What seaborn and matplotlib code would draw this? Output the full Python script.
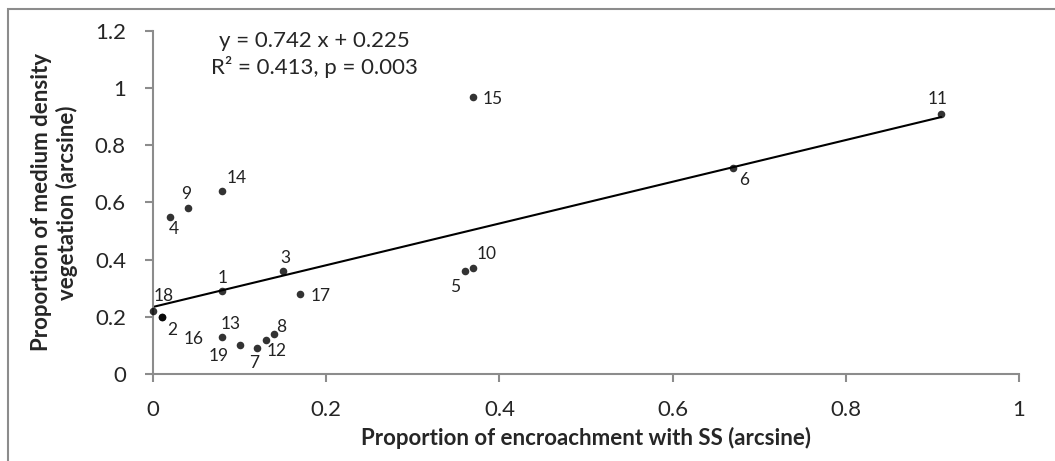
import numpy as np
import pandas as pd
import matplotlib
matplotlib.use("Agg")
import matplotlib.pyplot as plt
from matplotlib.patches import Rectangle
import seaborn as sns

# Data (site number, x, y)
sites = [1, 2, 3, 4, 5, 6, 7, 8, 9, 10, 11, 12, 13, 14, 15, 16, 17, 18, 19]
encroachment = [0.08, 0.01, 0.15, 0.02, 0.36, 0.67, 0.12, 0.14, 0.04, 0.37,
                0.91, 0.13, 0.08, 0.08, 0.37, 0.01, 0.17, 0.00, 0.10]
medium_veg = [0.29, 0.20, 0.36, 0.55, 0.36, 0.72, 0.09, 0.14, 0.58, 0.37,
              0.91, 0.12, 0.13, 0.64, 0.97, 0.20, 0.28, 0.22, 0.10]

# label offsets in pixels (dx, dy) relative to each point
label_offsets = [(0, 13), (11, -13), (2, 13), (4, -12), (-10, -16), (11, -12),
                 (-3, -15), (7, 7), (-1, 14), (13, 14), (-4, 15), (11, -11),
                 (8, 13), (14, 13), (19, -2), (32, -22), (20, -2), (11, 15),
                 (-21, -11)]

df = pd.DataFrame({"site": sites, "x": encroachment, "y": medium_veg})

sns.set_style("white")
plt.rcParams["font.family"] = ["Lato", "DejaVu Sans"]

fig = plt.figure(figsize=(10.55, 4.61), dpi=100)
ax = fig.add_axes([0.145, 0.189, 0.821, 0.744])

sns.regplot(data=df, x="x", y="y", ax=ax, ci=None, truncate=True,
            scatter_kws={"s": 30, "color": "black", "zorder": 3,
                         "linewidths": 0, "clip_on": False},
            line_kws={"color": "black", "lw": 1.5})

for s, xv, yv, (dx, dy) in zip(sites, encroachment, medium_veg, label_offsets):
    ax.annotate(str(s), (xv, yv), xytext=(dx, dy), textcoords="offset pixels",
                ha="center", va="center", fontsize=12.5, color="#222222")

ax.text(0.186, 1.165, "y = 0.742 x + 0.225", ha="center", va="center", fontsize=16)
ax.text(0.186, 1.075, "R² = 0.413, p = 0.003", ha="center", va="center", fontsize=16)

ax.set_xlim(0, 1)
ax.set_ylim(0, 1.2)
ax.set_xticks(np.arange(0, 1.01, 0.2))
ax.set_yticks(np.arange(0, 1.21, 0.2))
ax.set_xticklabels(["0", "0.2", "0.4", "0.6", "0.8", "1"])
ax.set_yticklabels(["0", "0.2", "0.4", "0.6", "0.8", "1", "1.2"])

for side in ["top", "right"]:
    ax.spines[side].set_visible(False)
for side in ["left", "bottom"]:
    ax.spines[side].set_color("#8c8c8c")
    ax.spines[side].set_linewidth(1.5)
ax.tick_params(axis="both", which="major", direction="out", length=5.5, width=1.5,
               color="#8c8c8c", labelsize=16, bottom=True, left=True)
ax.tick_params(axis="x", pad=13)
ax.tick_params(axis="y", pad=14)

ax.set_xlabel("Proportion of encroachment with SS (arcsine)", fontsize=16,
              fontweight="bold", labelpad=5)
ax.set_ylabel("Proportion of medium density\nvegetation (arcsine)", fontsize=16,
              fontweight="bold", labelpad=12, linespacing=1.25)

# chart area border (only top and left are inside the image)
fig.patches.append(Rectangle((8 / 1055, -0.1), 1.2, 1 - 9 / 461 + 0.1,
                             transform=fig.transFigure, fill=False,
                             edgecolor="#8c8c8c", linewidth=1.5))

fig.savefig("out.png", dpi=100)
